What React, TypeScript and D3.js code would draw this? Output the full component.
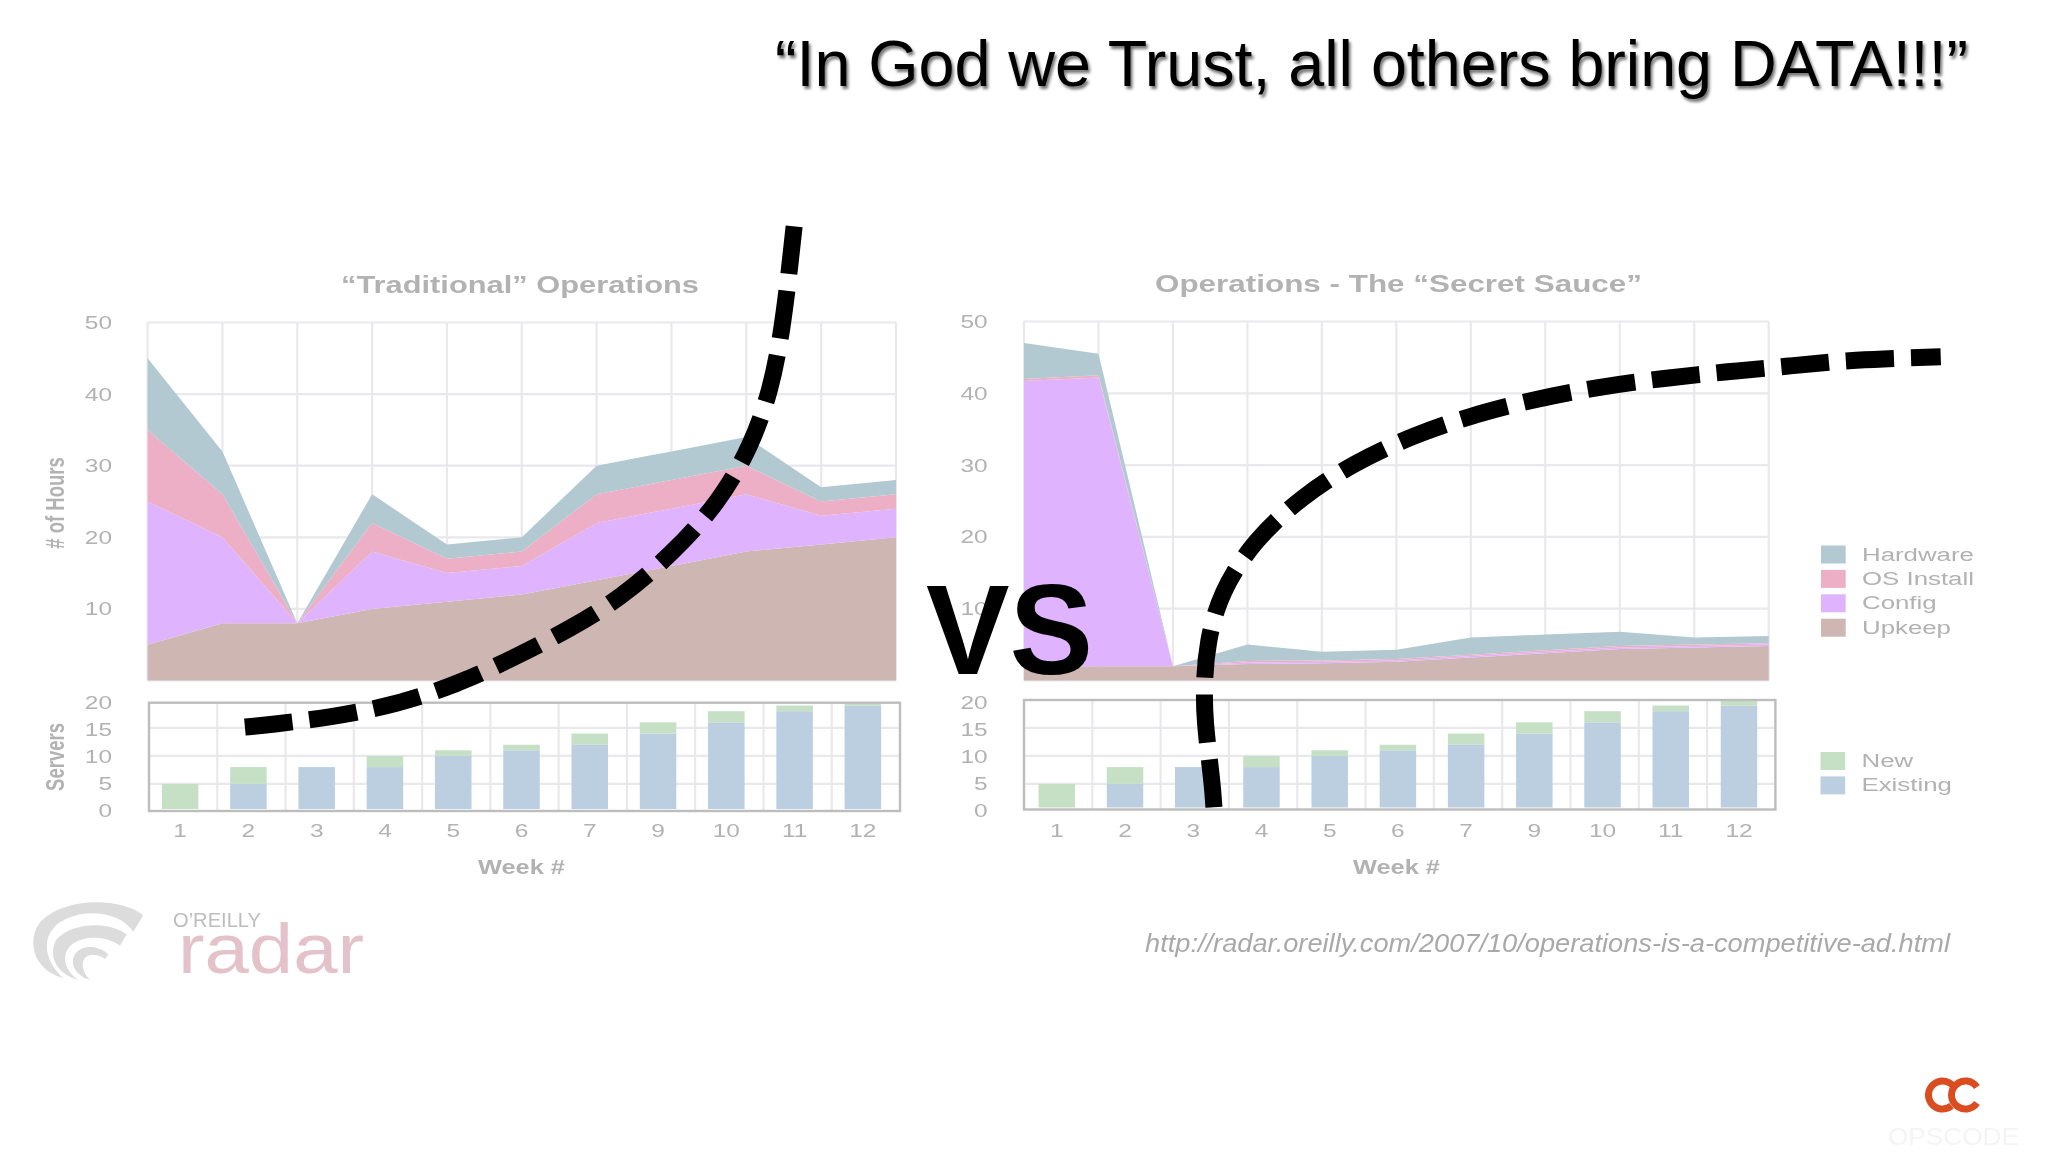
import { useEffect, useRef } from 'react';
import * as d3 from 'd3';

const weeks = ['1', '2', '3', '4', '5', '6', '7', '9', '10', '11', '12'];
const layerNames = ['Upkeep', 'Config', 'OS Install', 'Hardware'];
const layerColors = ['#ceb7b2', '#dfb3fd', '#ecafc6', '#b3c9d1'];
const serverNames = ['Existing', 'New'];
const serverColors = ['#bccfe0', '#c5e0c5'];

// traditional operations, hours per layer
const tradUpkeep = [5, 8, 8, 10, 11, 12, 14, 16, 18, 19, 20];
const tradConfig = [20, 12, 0, 8, 4, 4, 8, 8, 8, 4, 4];
const tradOs = [10, 6, 0, 4, 2, 2, 4, 4, 4, 2, 2];
const tradHardware = [10, 6, 0, 4, 2, 2, 4, 4, 4, 2, 2];

// secret sauce operations, hours per layer
const sauceUpkeep = [2, 2, 2, 2.3, 2.4, 2.6, 3.2, 3.8, 4.4, 4.6, 4.8];
const sauceConfig = [39.7, 40.2, 0, 0.2, 0.2, 0.2, 0.2, 0.2, 0.2, 0.2, 0.2];
const sauceOs = [0.3, 0.3, 0, 0.2, 0.2, 0.2, 0.2, 0.2, 0.2, 0.2, 0.2];
const sauceHardware = [5, 3, 0, 2.3, 1.2, 1.3, 2.4, 2.2, 2, 1, 1];

const existingServers = [0, 5, 8, 8, 10, 11, 12, 14, 16, 18, 19];
const newServers = [5, 3, 0, 2, 1, 1, 2, 2, 2, 1, 1];

// hand drawn dashed curves, as [week position, hours] on each area chart
const tradCurve: [number, number][] = [
  [1.3, -6.5], [1.61, -6.2], [2.48, -5.1], [3.31, -3.4], [4.13, -0.6], [4.92, 3.3], [5.66, 7.3],
  [6.32, 11.5], [7.02, 17.8], [7.63, 24.8], [8.06, 32.6], [8.33, 40.6], [8.48, 49], [8.58, 57.7], [8.65, 64.5],
];
const sauceCurve: [number, number][] = [
  [2.55, -17.7], [2.53, -14.3], [2.42, -5.5], [2.42, 0.1], [2.46, 5.2], [2.63, 12.2], [3.09, 19.6], [3.72, 25.6],
  [4.43, 30.4], [5.24, 34.3], [6.03, 37.1], [6.86, 39.3], [7.71, 41], [8.57, 42.2], [9.41, 43.1], [10.27, 43.9],
  [11.12, 44.8], [12.31, 45.2],
];

const FONT = '"Liberation Sans", Arial, sans-serif';
const GREY = '#b2b2b2';
const GRID = '#e9e8ec';
const SX = 1.36; // the slide stretches the chart images sideways

type Sel = d3.Selection<any, any, any, any>;

const label = (g: Sel, text: string, x: number, y: number, size: number, len?: number, weight = 'normal') => {
  const t = g.append('text')
    .attr('x', x)
    .attr('y', y)
    .attr('font-size', size)
    .attr('font-weight', weight)
    .attr('fill', GREY)
    .text(text);
  if (len) t.attr('textLength', len).attr('lengthAdjust', 'spacingAndGlyphs');
  return t;
};

const styleAxis = (g: Sel) => {
  g.select('.domain').remove();
  g.selectAll('line').remove();
  g.selectAll('text')
    .attr('font-family', FONT)
    .attr('font-size', 18)
    .attr('fill', GREY)
    .attr('y', 0)
    .attr('x', 0)
    .attr('dy', 0)
    .attr('transform', `scale(${SX},1)`);
};

const App = () => {
  const svgRef = useRef<SVGSVGElement | null>(null);

  useEffect(() => {
    const svg = d3.select(svgRef.current);
    svg.selectAll('*').remove();

    const defs = svg.append('defs');
    defs.append('filter').attr('id', 'soft')
      .attr('x', '-5%').attr('y', '-5%').attr('width', '110%').attr('height', '110%')
      .append('feGaussianBlur').attr('stdDeviation', 0.55);
    defs.append('filter').attr('id', 'shadow')
      .attr('x', '-2%').attr('y', '-10%').attr('width', '104%').attr('height', '130%')
      .append('feDropShadow')
      .attr('dx', 2).attr('dy', 3).attr('stdDeviation', 1.6)
      .attr('flood-color', '#000').attr('flood-opacity', 0.55);

    const layerColor = d3.scaleOrdinal<string>().domain(layerNames).range(layerColors);
    const serverColor = d3.scaleOrdinal<string>().domain(serverNames).range(serverColors);

    const panel = (opts: any) => {
      const g = svg.append('g').attr('font-family', FONT).attr('filter', 'url(#soft)');

      // stacked hours chart
      const rows = weeks.map((w, i) => ({
        week: w,
        Upkeep: opts.upkeep[i],
        Config: opts.config[i],
        'OS Install': opts.os[i],
        Hardware: opts.hardware[i],
      }));
      const x = d3.scalePoint<string>().domain(weeks).range(opts.areaX);
      const y = d3.scaleLinear().domain([0, 50]).range(opts.areaY);

      g.append('g').selectAll('line').data(y.ticks(5)).enter().append('line')
        .attr('x1', opts.areaX[0]).attr('x2', opts.areaX[1])
        .attr('y1', d => y(d)).attr('y2', d => y(d))
        .attr('stroke', GRID).attr('stroke-width', 2.2);
      g.append('g').selectAll('line').data(weeks).enter().append('line')
        .attr('x1', d => x(d)!).attr('x2', d => x(d)!)
        .attr('y1', opts.areaY[1]).attr('y2', opts.areaY[0])
        .attr('stroke', GRID).attr('stroke-width', 2.2);

      const series = d3.stack<any>().keys(layerNames)(rows);
      const area = d3.area<any>()
        .x(d => x(d.data.week)!)
        .y0(d => y(d[0]))
        .y1(d => y(d[1]));
      g.append('g').selectAll('path').data(series).enter().append('path')
        .attr('d', area as any)
        .attr('fill', d => layerColor(d.key));

      const yAxis = g.append('g')
        .attr('transform', `translate(${opts.tickX},0)`)
        .call(d3.axisLeft(y).tickValues([10, 20, 30, 40, 50]).tickSize(0));
      styleAxis(yAxis);
      yAxis.selectAll('text').attr('dy', 6);

      // server bars
      const serverRows = weeks.map((w, i) => ({ week: w, Existing: existingServers[i], New: newServers[i] }));
      const bx = d3.scaleBand<string>().domain(weeks).range(opts.barX).paddingInner(0.465).paddingOuter(0.2325);
      const by = d3.scaleLinear().domain([0, 20]).range([811.8, 700]);
      const byTicks = d3.scaleLinear().domain([0, 20]).range([810.5, 702.5]);
      const gridX = d3.scalePoint<string>().domain(weeks).range(opts.frameX).padding(0.5);

      g.append('g').selectAll('line').data([5, 10, 15]).enter().append('line')
        .attr('x1', opts.frameX[0]).attr('x2', opts.frameX[1])
        .attr('y1', d => by(d)).attr('y2', d => by(d))
        .attr('stroke', GRID).attr('stroke-width', 2.2);
      g.append('g').selectAll('line').data(weeks.slice(1)).enter().append('line')
        .attr('x1', d => gridX(d)! - gridX.step() / 2).attr('x2', d => gridX(d)! - gridX.step() / 2)
        .attr('y1', opts.frameY[0]).attr('y2', opts.frameY[1])
        .attr('stroke', GRID).attr('stroke-width', 2.2);

      const clipId = `bars-${opts.id}`;
      defs.append('clipPath').attr('id', clipId).append('rect')
        .attr('x', opts.frameX[0]).attr('y', opts.frameY[0])
        .attr('width', opts.frameX[1] - opts.frameX[0]).attr('height', opts.frameY[1] - opts.frameY[0] - 2);

      const barSeries = d3.stack<any>().keys(serverNames)(serverRows);
      const barGroups = g.append('g').attr('clip-path', `url(#${clipId})`)
        .selectAll('g').data(barSeries).enter().append('g')
        .attr('fill', d => serverColor(d.key));
      barGroups.selectAll('rect').data(d => d).enter().append('rect')
        .attr('x', d => bx(d.data.week)!)
        .attr('width', bx.bandwidth())
        .attr('y', d => by(d[1]))
        .attr('height', d => by(d[0]) - by(d[1]));

      g.append('rect')
        .attr('x', opts.frameX[0]).attr('y', opts.frameY[0])
        .attr('width', opts.frameX[1] - opts.frameX[0]).attr('height', opts.frameY[1] - opts.frameY[0])
        .attr('fill', 'none').attr('stroke', '#bdbdbd').attr('stroke-width', 2.4);

      const byAxis = g.append('g')
        .attr('transform', `translate(${opts.tickX},0)`)
        .call(d3.axisLeft(byTicks).tickValues([0, 5, 10, 15, 20]).tickSize(0));
      styleAxis(byAxis);
      byAxis.selectAll('text').attr('dy', 6);

      const bxAxis = g.append('g')
        .attr('transform', 'translate(0,837)')
        .call(d3.axisBottom(bx).tickSize(0).offset(0));
      styleAxis(bxAxis);

      label(g, opts.title, opts.titleX, opts.titleY, 23, opts.titleLen, 'bold');
      label(g, 'Week #', opts.weekX, 874, 20, 87, 'bold');
    };

    panel({
      id: 'trad',
      upkeep: tradUpkeep, config: tradConfig, os: tradOs, hardware: tradHardware,
      areaX: [147.6, 896], areaY: [680.5, 322.5],
      barX: [146, 897], frameX: [149, 900], frameY: [702.7, 811],
      tickX: 112,
      title: '“Traditional” Operations', titleX: 341, titleY: 293, titleLen: 358,
      weekX: 478,
    });
    panel({
      id: 'sauce',
      upkeep: sauceUpkeep, config: sauceConfig, os: sauceOs, hardware: sauceHardware,
      areaX: [1024, 1768.7], areaY: [680.5, 321.5],
      barX: [1022.7, 1773.1], frameX: [1024, 1775.4], frameY: [700, 809.5],
      tickX: 987.6,
      title: 'Operations - The “Secret Sauce”', titleX: 1155, titleY: 292, titleLen: 487,
      weekX: 1353,
    });

    const side = svg.append('g').attr('font-family', FONT).attr('filter', 'url(#soft)');
    const vertical = (text: string, yy: number) => {
      side.append('text')
        .attr('transform', `translate(64,${yy}) scale(1.43,1) rotate(-90)`)
        .attr('text-anchor', 'middle')
        .attr('font-size', 18.5)
        .attr('font-weight', 'bold')
        .attr('fill', GREY)
        .text(text);
    };
    vertical('# of Hours', 503);
    vertical('Servers', 757);

    // legends
    const swatchLegend = (names: string[], color: (n: string) => string, x0: number, y0: number) => {
      names.forEach((name, i) => {
        const yy = y0 + i * 24.4;
        side.append('rect').attr('x', x0).attr('y', yy).attr('width', 24.7).attr('height', 18).attr('fill', color(name));
        side.append('text')
          .attr('transform', `translate(${x0 + 41},${yy + 15}) scale(${SX},1)`)
          .attr('font-size', 19)
          .attr('fill', GREY)
          .text(name);
      });
    };
    swatchLegend([...layerNames].reverse(), layerColor, 1821, 545.5);
    swatchLegend([...serverNames].reverse(), serverColor, 1820.5, 752);

    // slide furniture
    label(side, 'http://radar.oreilly.com/2007/10/operations-is-a-competitive-ad.html', 1145, 951.7, 26, 805)
      .attr('font-style', 'italic').attr('fill', '#a9a9a9');

    const logo = side.append('g').attr('transform', 'translate(20,895) scale(0.3333)').attr('fill', '#dcdcdc');
    logo.append('path').attr('d', 'M370,60 C300,5 125,5 58,85 C20,140 40,225 130,250 C75,200 60,130 115,85 C190,35 300,50 340,110 Z');
    logo.append('path').attr('d', 'M320,118 C260,75 150,85 108,135 C85,180 105,235 175,255 C125,220 125,170 160,145 C210,115 270,130 300,152 Z');
    logo.append('path').attr('d', 'M265,178 C230,148 185,150 165,178 C148,205 165,242 210,255 C185,228 180,195 203,183 C225,172 250,188 255,192 Z');
    label(side, 'O’REILLY', 173, 927, 21, 88).attr('fill', '#bdbdbd');
    label(side, 'radar', 178, 972.7, 70, 186).attr('fill', '#e3c3c9');

    const ring = d3.arc<any>().innerRadius(10.5).outerRadius(17.5);
    const toRad = (deg: number) => (deg * Math.PI) / 180;
    svg.append('path')
      .attr('transform', 'translate(1942.5,1095)')
      .attr('d', ring({ startAngle: toRad(140), endAngle: toRad(420) }))
      .attr('fill', '#d94d20');
    svg.append('path')
      .attr('transform', 'translate(1965.5,1095)')
      .attr('d', ring({ startAngle: toRad(125), endAngle: toRad(415) }))
      .attr('fill', '#d94d20');
    label(side, 'OPSCODE', 1888, 1145, 23, 131).attr('fill', '#f4f4f4');

    svg.append('text')
      .attr('x', 775).attr('y', 86)
      .attr('font-family', FONT).attr('font-size', 64)
      .attr('textLength', 1193).attr('lengthAdjust', 'spacingAndGlyphs')
      .attr('fill', '#000').attr('filter', 'url(#shadow)')
      .text('“In God we Trust, all others bring DATA!!!”');

    svg.append('text')
      .attr('x', 926).attr('y', 673.5)
      .attr('font-family', FONT).attr('font-size', 128).attr('font-weight', 'bold')
      .attr('textLength', 167).attr('lengthAdjust', 'spacingAndGlyphs')
      .attr('fill', '#000')
      .text('VS');

    // dashed curves go over everything
    const curveX = d3.scaleLinear().domain([0, 10]).range([147.6, 896]);
    const curveY = d3.scaleLinear().domain([0, 50]).range([680.5, 322.5]);
    const sauceX = d3.scaleLinear().domain([0, 10]).range([1024, 1768.7]);
    const curve = (pts: [number, number][], sx: d3.ScaleLinear<number, number>) => {
      const line = d3.line<[number, number]>()
        .x(d => sx(d[0]))
        .y(d => curveY(d[1]))
        .curve(d3.curveBasis);
      svg.append('path')
        .attr('d', line(pts))
        .attr('fill', 'none')
        .attr('stroke', '#000')
        .attr('stroke-width', 17)
        .attr('stroke-dasharray', '48 17');
    };
    curve(tradCurve, curveX);
    curve(sauceCurve, sauceX);
  }, []);

  return (
    <svg
      ref={svgRef}
      width={2048}
      height={1152}
      style={{ position: 'absolute', left: 0, top: 0, background: '#fff' }}
    />
  );
};

export default App;
